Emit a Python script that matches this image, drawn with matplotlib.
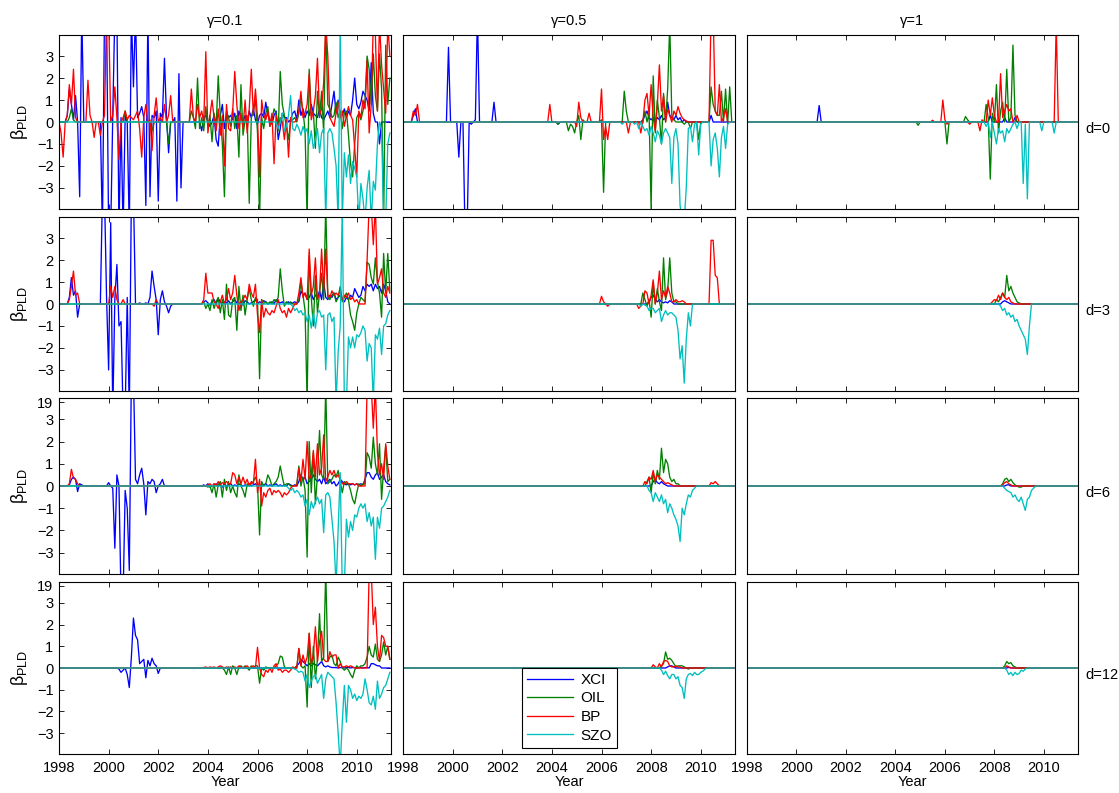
import numpy as np
import matplotlib
matplotlib.use("Agg")
import matplotlib.pyplot as plt

plt.rcParams['font.family'] = ['Liberation Sans', 'DejaVu Sans']

# ---------------- data ----------------
N_MONTHS = 161            # monthly, Jan 1998 .. May 2011
START_YEAR = 1998
GAMMAS = ["γ=0.1", "γ=0.5", "γ=1"]
LAGS = ["d=0", "d=3", "d=6", "d=12"]
SERIES = ["XCI", "OIL", "BP", "SZO"]
XTICKS = [1998, 2000, 2002, 2004, 2006, 2008, 2010]
YTICKS = [-3, -2, -1, 0, 1, 2, 3]

# each series: list of (start_month, [consecutive monthly values]); zero elsewhere
# ---- gamma = 0.1, d = 0
XCI_G01_D0 = [
    (4, [0.3, 1.5, 0.8, 0.1, 1.2, 0.0, -3.4, 5.0]),
    (20, [0.0, -5, 5, 5, -5, -5, 0.3, 5, 5, -5, 0.2, -5, 0.3, 0.0, -5, 5, 1.6, 5, 0.2, 0.4,
          0.7, 0.2, -3.8, 5, -3.4, 0.3, 0.2, 0.5, -3.6, 0.4, 0.2, 2.9, 0.2, -1.4, 0.0, 0.0,
          0.2, -3.6, 2.2, -3.0, 0.0]),
    (69, [-0.4, 0.2, 0.3, 0.0, -0.2, 0.0, 0.3, -0.8, -1.1, 0.3, 0.8, -0.3, 0.4, 0.2,
          0.3, 0.1, 0.4, -0.3, 0.5, 0.2, 0.0, 0.3, -0.2, 0.5, 0.2, 0.6, 0.1, -0.1, 0.3, 0.4, 0.2, 0.9,
          0.3, 0.1, -0.1, 0.3, 0.5, -0.8, -0.3, 0.4, 0.2, 0.2, 0.0, 0.1, 0.4, 0.5, 0.1, 1.0,
          0.3, 0.6, 0.2, 0.5, 0.3, 0.8, 0.4, 0.3, 0.2, 0.6, 0.2, 0.1, 0.3, 0.5, 0.2, 0.8, 1.4, 0.4, 1.0, 0.4,
          0.3, 0.6, 0.2, 0.5, 0.3, 1.0, 2.0, 0.8, 0.6, 0.9, 1.4, 1.2, 1.0, 0.5, 2.7, 0.4, 0.0, 0.0, -1.0,
          0.0, 0.0, 0.0, 0.0, 0.0]),
]
OIL_G01_D0 = [
    (5, [0.2, 0.6, 0.1]), (32, [0.5]), (45, [-0.4]), (53, [-1.0]),
    (63, [0.0, 0.5, 0.2, -0.3, 2.0, -0.3, 0.2, -0.4, 0.7, -0.2, 0.3, -0.9, 0.4, -0.2, 2.1, 0.3, -1.0, -3.4, 0.5, 0.2,
          -0.2, 0.6, -0.3, 0.3, -1.6, 1.7, -0.6, 0.1, 0.3, -3.7, 0.2, 0.5, 1.0, -0.5, -4.5, 0.2, -0.3, 0.4, 0.7, -0.2,
          0.1, 0.6, 0.4, -0.4, 2.3, 0.8, 0.3, -0.2, -0.8, 0.0,
          0.1, 0.2, 0.0, 0.4, 1.1, 0.5, -0.4, -4.5, 2.4, 0.3, 0.5, -1.2, 1.4, 0.2, 1.4, -0.5, 4.5, 0.8, 0.6, 0.2,
          0.3, 0.9, 0.2, 0.5, -0.3, 0.4, 0.5, -0.6, -1.9, -2.5, -1.0, 0.2, 0.4, 0.1, 0.5, 1.0, 3.0, 2.4, 0.8, 3.1,
          1.2, 0.5, 3.1, 1.5, -4.5, 3.5, 0.8, 2.0]),
]
BP_G01_D0 = [
    (0, [0.0, -0.5, -1.6, 0.0, 0.3, 1.7, 0.8, 2.4, 0.2, 0.0, 0.0, 0.0, 0.0, 0.0, 1.9, 0.3, 0.0, -0.7, 0.0, 0.0,
         -0.6, 0.0, 0.3, 5, 5, 0.0, 0.3, 1.6, 0.2, -1.7, 0.0, 0.2, 0.5, 0.1, 0.3, 0.2, 0.1, 0.3, 0.5, -0.3,
         -1.6, 0.2, 0.8, 0.0, 0.1, -1.3, 0.3, 1.1, 0.0, 0.2, 0.0, 0.8, 0.0, 0.3, 1.2, 0.0]),
    (63, [0.0, 1.5, 0.2, 0.0, 0.8, 0.2, 0.5, 0.0, 3.2, -0.5, 0.3, 1.0, 0.2, -0.4, 0.6, -0.6, 0.3, -2.0, 0.8, -0.3,
          -0.4, 0.5, 2.3, 0.8, -0.3, 0.4, -0.3, 1.0, -0.5, 0.6, 2.4, 0.3, 1.5, 0.2, -2.5, 1.0, 0.3, 0.1, 0.5, -0.2,
          0.4, -1.9, 0.3, -0.3, 0.2, 0.0, -0.8, 0.1, -1.6, 0.2,
          0.0, 0.0, 0.1, 0.5, 1.4, 0.2, 0.4, 0.8, 2.2, 0.1, 0.5, 1.2, 2.9, 0.3, 0.6, 1.8, 4.5, 3.0, 0.2, 0.0,
          -0.2, 0.4, 0.9, 0.2, 0.5, -0.2, 0.3, 0.7, 0.3, 0.1, -1.2, -2.5, 0.5, 0.2, 1.0, 0.6, 2.8, -0.5, 0.8, 4.5,
          4.0, 0.5, 4.5, 2.6, 1.5, 0.4, 4.5, 3.0]),
]
SZO_G01_D0 = [
    (106, [-0.3, 0.0, 0.4, -0.4, -0.2, 0.3, 1.2, -0.3, -0.4, -0.1, -0.3, -0.6, -0.2, -0.5, -0.3, -1.0, -0.4, -1.2,
           -0.8, -0.3, -1.4, -0.5, -0.3, -4.5, -0.5, -0.3, -0.5, -1.2, -2.0, -4.5, 4.5, -4.5, -1.4, -2.5, -1.5,
           -2.8, -1.8, -2.1, -2.5, -4.5, -2.8, -3.5, -4.5, -3.0, -2.2, -4.5, -2.7, -3.1, -1.0, 0.0, -0.3, -4.5,
           -4.5, -1.0, -0.5]),
]
# ---- gamma = 0.1, d = 3
XCI_G01_D3 = [
    (5, [0.3, 1.2, 0.4, 0.6, -0.6, 0.0]),
    (20, [0.0, 5, 5, 0.3, -3.0, 3.7, -5, 0.2, 1.8, -1.0, -0.8, -5, -5, 0.3, -5, 5, 5, 0.0, 0.0, 0.05, 0.0, 0.0,
          0.05, 0.0, 0.3, 1.5, 0.8, 0.2, -1.4, 0.2, 0.6, 0.1, -0.1, -0.4, -0.1, 0.0]),
    (70, [0.1, 0.15, 0.05, -0.05, 0.1, 0.2, 0.0, 0.25, 0.1, 0.0, 0.1, 0.05, 0.15, 0.0, 0.1, 0.2, 0.05, 0.0, 0.1,
          -0.05, 0.15, 0.1, 0.0, 0.05, 0.1, 0.2, 0.0, 0.1, 0.05, 0.15, 0.1, 0.0, 0.05, 0.1, 0.0, 0.2, 0.1, 0.05,
          0.1, 0.0, 0.05, 0.1, 0.0, 0.05, 0.1, 0.05, 0.1,
          0.6, 0.4, 0.5, 0.2, 0.3, 0.5, 0.2, 0.4, 0.3, 0.6, 0.2, 1.0, 0.3, 0.2, 0.4, 0.3, 0.5, 0.2, 0.3, 0.4,
          0.2, 0.1, 0.3, 0.2, 0.4, 0.3, 0.7, 0.5, 0.3, 0.4, 0.8, 0.6, 0.9, 0.8, 0.9, 0.6, 0.9, 0.7, 0.8, 0.5,
          0.9, 0.6, 0.1, 0.0]),
]
OIL_G01_D3 = [
    (70, [0.1, -0.2, 0.0, -0.3, 0.2, -0.2, 0.1, 0.3, -0.4, 0.2, -0.7, 0.9, -0.5,
          -0.6, 0.2, 0.3, -1.2, 0.8, -0.3, 0.4, -0.5, 0.2, 0.7, 0.2, -0.1, 0.3, 0.2, -3.4, 0.2, 0.0, 0.1, 0.0,
          0.1, 0.0, 0.2, 0.1, 0.3, 1.6, 0.6, -0.1, 0.1, 0.0, 0.1, 0.0, 0.0, 0.0,
          0.2, 1.0, 0.4, -0.3, -4.5, 2.2, 0.3, -1.0, 1.3, -0.4, 0.5, 1.4, 0.2, 4.5, 0.3, 0.2, 0.4, 0.5, 0.1,
          0.3, 0.8, 0.1, 0.3, 0.5, 0.2, -0.5, -0.8, -1.2, -0.4, 0.0, 0.3, 0.2, 0.1, 1.9, 1.8, 1.2, 0.9, 2.1,
          1.0, 0.5, -0.6, 2.3, 0.5, 2.3, 0.6]),
]
BP_G01_D3 = [
    (5, [0.2, 0.8, 1.5, 0.4, 0.5, 0.0]), (25, [0.8, 0.3, 0.8, 0.2, 0.0, 0.0, 0.2, 0.0]), (46, [-0.1, 0.2, 0.0]),
    (69, [0.0, 0.2, 1.4, 0.5, 0.5, 0.5, 0.1, 0.0, -0.2, 0.1, 0.4, 0.0, 0.2, 0.7, 0.2,
          0.5, 1.3, 0.4, -0.3, 0.1, 0.2, 0.4, 0.2, 0.9, 0.5, 0.3, 0.9, -0.5, -1.3, 0.2, -0.6, -0.2, -0.4, -0.5,
          -0.3, -0.4, -0.1, 0.2, -0.2, -0.4, -0.3, -0.6, -0.2, -0.4, -0.2, 0.0, 0.0,
          0.5, 1.2, 0.3, 0.5, 0.2, 2.5, 0.4, 0.8, 2.1, 0.2, 0.5, 2.5, 0.6, 2.5, 0.4, 0.3, 0.6, 0.4, 0.5, 0.4,
          0.6, 0.2, 0.4, 0.3, 0.5, 0.2, 0.3, 0.1, 0.2, 0.0, 0.0, 0.0, 0.0, 2.0, 4.5, 4.5, 2.7, 4.5, 0.9, 1.2,
          1.6, 0.5, 0.3, 0.8, 0.5]),
]
SZO_G01_D3 = [
    (113, [-0.1, -0.3, -0.2, -0.4, -0.3, -0.5, -0.4, -0.8, -0.5, -1.1, -0.4, -1.1, -0.4, -0.3, -0.6, -0.5,
           -3.0, -0.5, -0.4, -0.8, -0.6, -4.5, -2.2, -1.0, 4.5, -4.5, -4.5, -1.5, -2.0, -1.5, -2.0, -1.4,
           -1.5, -1.3, -1.0, -1.2, -2.6, -1.8, -2.0, -4.5, -1.4, -1.6, -1.1, -2.3, -1.0, -0.9, -0.5, -0.3]),
]
# ---- gamma = 0.1, d = 6
XCI_G01_D6 = [
    (5, [0.05, 0.3, 0.4, 0.3, -0.25, 0.1, 0.05]),
    (24, [0.15, 0.0, -0.1, -2.8, 0.5, 0.0, -5, -5, -0.2, -1.0, -3.8, 5, 5, 0.3, 0.1, 0.5, 0.8, 0.1, -1.3,
          0.2, 0.1, 0.3, 0.2, -0.3, 0.0, 0.1, 0.3, 0.0]),
    (70, [0.05, 0.0, 0.1, -0.05, 0.0, 0.05, 0.1, 0.0, 0.05, -0.05, 0.1, 0.0, 0.05, 0.1, 0.0, 0.05, 0.0, 0.1,
          0.05, 0.0, 0.05, 0.0, 0.1, 0.0, 0.05, 0.1, 0.0, 0.05, 0.0, 0.05, 0.1, 0.0, 0.05, 0.0, 0.05, 0.1, 0.0,
          0.05, 0.0, 0.05, 0.0, 0.1, 0.05, 0.0, 0.05, 0.0,
          0.2, 0.5, 0.3, 0.4, 0.1, 0.2, 0.3, 0.5, 0.3, 0.2, 0.3, 0.1, 0.4, 0.1, 0.2, 0.3, 0.1, 0.2, 0.0, 0.1,
          0.3, 0.2, 0.1, 0.05, 0.1, 0.05, 0.1, 0.05, 0.1, 0.05, 0.1, 0.05, 0.3, 0.6, 0.6, 0.4, 0.3, 0.5, 0.6,
          0.3, 0.4, 0.5, 0.2, 0.1, 0.05]),
]
OIL_G01_D6 = [
    (72, [-0.05, 0.0, -0.3, 0.1, -0.5, 0.05, 0.2, -0.5, 0.3, -0.2, 0.2,
          -0.3, 0.0, -0.3, -0.5, 0.5, 0.0, -0.2, -0.5, 0.1, 0.0, 0.1, 0.2, 0.4, 0.1, -2.2, 0.2, 0.0, 0.1, 0.5,
          0.3, 0.0, 0.1, 0.2, 0.4, 0.9, 0.4, 0.0, 0.1, 0.1, 0.0, 0.0, 0.0, 0.1,
          0.9, 0.0, 0.4, -0.2, -3.2, 2.0, -0.3, 1.5, -0.8, 0.5, 2.5, 0.5, 0.3, 4.5, 0.1, 0.2, 0.3, 0.5, 0.4,
          0.7, 0.2, -0.3, 0.2, 0.1, 0.1, -0.2, -0.6, -0.8, -0.3, 0.1, 0.0, 0.1, 0.1, 1.5, 1.3, 0.8, 2.2, 1.0,
          0.5, 1.9, -0.6, 0.8, 1.8, 0.2, 0.3]),
]
BP_G01_D6 = [
    (5, [0.1, 0.75, 0.35, 0.3, 0.1, 0.0]),
    (72, [0.05, 0.1, 0.0, 0.1, 0.0, 0.2, 0.05, 0.15, 0.1, 0.2, 0.1, 0.1,
          0.6, 0.5, 0.1, 0.4, 0.1, 0.4, 0.1, 0.3, 0.0, 0.2, 0.1, 1.2, -0.3, 0.3, -0.9, -0.3, -0.5, -0.2, -0.1,
          -0.4, -0.2, -0.3, -0.2, -0.3, -0.5, -0.3, -0.4, -0.3, -0.1, 0.0, 0.0, 0.0,
          0.8, 0.2, 1.2, 0.3, 2.0, 0.3, 0.5, 1.6, 0.4, 1.9, 0.5, 0.8, 2.3, 0.2, 0.4, 0.7, 0.5, 0.7, 0.4, 0.5,
          0.3, 0.1, 0.1, 0.2, 0.1, 0.1, 0.1, 0.05, 0.1, 0.0, 0.0, 0.0, 0.0, 4.5, 4.5, 4.5, 2.6, 4.5, 1.5, 0.5,
          1.0, 0.3, 1.9, 0.9, 0.3]),
]
SZO_G01_D6 = [
    (111, [-0.1, -0.2, -0.1, -0.3, -0.2, -0.3, -0.5, -0.4, -0.9, -0.6, -1.3, -0.7, -1.0, -0.7, -0.5, -0.8,
           -0.6, -2.1, -0.4, -0.3, -0.5, -1.5, -2.5, -4.5, -2.0, 0.6, -4.5, -4.5, -1.5, -2.3, -1.6, -2.0,
           -1.3, -1.4, -1.0, -0.8, -1.0, -0.8, -1.6, -1.2, -1.8, -1.4, -3.3, -1.4, -1.9, -1.0, -0.9, -0.7,
           -0.5, -0.2]),
]
# ---- gamma = 0.1, d = 12
XCI_G01_D12 = [
    (29, [-0.05, -0.2, -0.1, 0.0, -0.3, -0.9, 0.5, 2.3, 1.5, 1.3, 0.2, 0.3, 0.4, -0.45, 0.35, 0.1, 0.45, 0.2,
          0.1, -0.25, 0.0]),
    (115, [0.1, 0.2, 0.4, 0.3, 0.2, 0.1, 0.2, 0.1, 0.2, 0.15, 0.1, 0.2, 0.3, 0.1, 0.05, 0.1, 0.05, 0.02, 0.02,
           0.02, 0.0, 0.02, 0.02, 0.0, 0.02, 0.02, 0.0, 0.02, 0.02, 0.0, 0.02, 0.02, 0.0, 0.02, 0.02, 0.0, 0.2,
           0.2, 0.15, 0.1, 0.1, 0.0]),
]
OIL_G01_D12 = [
    (80, [-0.1, -0.3, 0.05,
          -0.3, 0.1, 0.0, -0.3, 0.05, 0.1, 0.0, 0.1, 0.0, -0.1, 0.1, 0.0, 0.1, 0.1, -0.7, 0.0, -0.1, 0.05, 0.0,
          0.0, 0.0, 0.0, 0.1, 0.2, 0.55, 0.5, 0.05, 0.0, 0.0, 0.0, 0.0, 0.0, 0.0,
          0.9, 0.1, 0.0, 0.1, -1.8, 1.6, -0.9, 1.0, -0.5, 0.4, 2.5, 0.3, 0.5, 4.5, 0.3, 0.5, 0.6, 0.2, 0.1,
          0.5, 0.3, 0.0, -0.1, 0.0, -0.1, -0.3, -0.45, -0.1, 0.1, 0.0, 0.1, 0.1, 0.2, 0.5, 1.0, 0.6, 0.5, 1.1,
          0.4, 0.3, 0.6, 1.2, 0.6, 1.0, 0.4]),
]
BP_G01_D12 = [
    (70, [0.02, 0.05, 0.0, 0.05, 0.02, 0.05, 0.0, 0.05, 0.1, 0.05, 0.0, 0.05, 0.02,
          0.05, 0.0, 0.05, 0.0, 0.1, 0.05, 0.0, 0.05, 0.1, 0.0, 0.05, 0.1, 0.0, 0.95, 0.0, -0.3, -0.4, -0.1,
          -0.2, 0.0, -0.2, 0.1, 0.2, -0.1, -0.05, -0.2, -0.1, -0.1, -0.2, -0.1, 0.05, 0.0, 0.0,
          0.9, 0.1, 0.6, 0.2, 0.5, 1.6, 0.2, 0.6, 1.9, 0.3, 1.2, 1.7, 0.4, 0.3, 0.3, 0.75, 0.5, 0.6, 0.6, 0.0,
          0.2, 0.05, 0.05, 0.1, 0.05, 0.1, 0.05, 0.0, 0.0, 0.0, 0.0, 0.0, 0.0, 0.0, 4.5, 4.5, 2.0, 2.8, 1.0,
          0.3, 1.5, 1.4, 1.0, 1.0, 0.4]),
]
SZO_G01_D12 = [
    (114, [-0.05, -0.1, -0.2, -0.15, -0.2, -0.6, -0.3, -0.9, -0.6, -0.4, -0.3, -0.7, -0.5, -0.3, -1.4, -0.5,
           -0.2, -0.3, -0.4, -0.5, -1.6, -3.0, -4.5, -2.5, -0.8, -2.5, -0.8, -1.0, -1.4, -1.2, -1.5, -1.3,
           -1.4, -1.2, -0.5, -1.0, -1.6, -1.7, -1.3, -1.9, -0.6, -1.4, -1.2, -0.9, -0.8, -0.5, -0.2]),
]
# ---- gamma = 0.5
XCI_G05_D0 = [(5, [0.3, 0.6, 0.0]), (22, [3.4]), (27, [-1.6]), (30, [-5, -5, 0.0, -0.1, 0.0, 0.1, 5, 0.0]),
              (44, [0.9]), (75, [-0.1]),
              (116, [0.1, 0.3, 0.5, 0.2, 0.1, 0.2, 0.0, 0.2, 0.1, 0.3, 0.1, 0.2, 0.9, 0.3, 0.2, 0.1, 0.3, 0.1,
                     0.2, 0.0, 0.1]), (149, [0.3])]
OIL_G05_D0 = [(75, [-0.1]), (80, [-0.4, -0.1, -0.2, -0.5, 0.0, 0.3, -0.8, 0.1]), (96, [0.1, -3.2]),
              (107, [1.4, 0.5]),
              (117, [0.5, 0.0, 0.4, -4.0, 2.1, -0.5, 1.0, 0.2, -1.0, 1.3, 0.0, 1.5, 4.5, 0.3, 0.1]),
              (136, [-0.1]), (139, [-0.3]), (143, [-0.8]),
              (149, [1.6, 0.8, 0.5, 0.3, 0.3, 1.4, 0.0, 1.5, -0.1, 1.6])]
BP_G05_D0 = [(5, [0.5, 0.3, 0.8, 0.0]), (71, [0.8]), (84, [-0.2, 0.9, 0.2]), (90, [0.4]),
             (96, [1.5, -0.8, -0.2, -0.8, 0.0]), (109, [-0.5]),
             (115, [-0.5, 0.0, 1.0, 1.3, 0.3, 1.7, 0.2, -0.4, 0.8, 2.6, 0.5, 1.2, 0.0, 0.6, 0.3, 0.0, 0.5, 0.3,
                    0.7, 0.4, 0.2, 0.1, 0.05]),
             (149, [5, 5, 0.5, 0.3, 1.7, 0.0, 0.2, 0.6])]
SZO_G05_D0 = [(106, [-0.1]),
              (112, [-0.1, 0.0, -0.3, 0.0, -0.2, -0.4, -0.3, -0.6, -0.2, -0.5, -0.9, -0.4, -0.6, -1.0, -0.5,
                     -0.3, -0.5, -0.7, -2.8, -0.7, -0.3, -1.0, -3.8, -4.5, -4.5, -3.0, -0.3, -0.2, -0.9, -0.1,
                     0.0, -1.5, -0.1]),
              (149, [-2.0, -0.8, -0.5, -1.2, -2.5, -0.7, -0.2, -1.2, -0.1])]
XCI_G05_D3 = [(119, [0.1, 0.3, 0.4, 0.2, 0.1, 0.2, 0.1, 0.05, 0.1, 0.05, 0.15, 0.1])]
OIL_G05_D3 = [(116, [0.5, 0.2, -0.1, 0.2, -0.6, 1.0, 0.0, 0.7, 0.1, -0.3, 2.1, 0.2, 0.6, 2.1, 0.5, 0.1, 0.1])]
BP_G05_D3 = [(96, [0.35, 0.1, 0.0, -0.1]),
             (114, [-0.2, -0.1, 0.0, 0.6, 0.5, 0.0, 0.4, 1.1, 0.0, 0.5, 1.5, 0.2, 0.6, 0.3, 0.8, 0.5, 0.1, 0.1,
                    0.2, 0.1, 0.1, 0.15, 0.1]),
             (149, [2.9, 2.9, 1.3, 1.2])]
SZO_G05_D3 = [(115, [-0.1, 0.0, -0.05, -0.1, -0.3, -0.2, -0.2, -0.4, -0.3, -0.2, -0.8, -0.5, -0.3, -0.5,
                     -0.4, -0.4, -0.5, -0.6, -1.2, -2.5, -1.9, -3.6, -1.6, -0.4, -1.0])]
XCI_G05_D6 = [(121, [0.2, 0.3, 0.15, 0.1, 0.2, 0.1, 0.05])]
OIL_G05_D6 = [(118, [0.2, 0.4, -0.3, 0.6, 0.1, 0.7, 0.3, 1.7, 0.6, 1.2, 1.0, 0.4, 0.2, 0.3, 0.1, 0.1])]
BP_G05_D6 = [(117, [0.2, 0.1, 0.4, 0.3, 0.7, 0.2, 0.5, 0.4, 0.3, 0.2, 0.1, 0.15, 0.1, 0.05]),
             (149, [0.15, 0.1, 0.2, 0.1])]
SZO_G05_D6 = [(119, [-0.2, -0.3, -0.7, -0.3, -0.5, -0.7, -0.4, -0.8, -0.6, -1.2, -0.8, -1.0, -1.3, -1.5,
                     -1.8, -2.5, -1.0, -1.3, -0.8, -0.4, -0.5, -0.2, -0.1])]
XCI_G05_D12 = [(128, [0.05, 0.1, 0.1, 0.05])]
OIL_G05_D12 = [(125, [0.1, 0.2, 0.74, 0.4, 0.45, 0.35, 0.2, 0.05, 0.1, 0.1, 0.1, 0.05, 0.0, -0.05])]
BP_G05_D12 = [(121, [0.15, 0.05, 0.0, 0.2, 0.05, 0.3, 0.35, 0.3, 0.1, 0.05, 0.05, 0.1, 0.05, 0.05])]
SZO_G05_D12 = [(125, [-0.1, -0.3, -0.15, -0.35, -0.5, -0.3, -0.3, -0.5, -0.4, -0.8, -0.9, -1.4, -0.5, -0.3,
                      -0.25, -0.35, -0.2, -0.3, -0.3, -0.2, -0.15, -0.05])]
# ---- gamma = 1
XCI_G1_D0 = [(35, [0.75]), (118, [0.3]), (125, [0.2]), (130, [0.2])]
OIL_G1_D0 = [(83, [-0.15]), (97, [-1.0]), (106, [0.25, 0.1]),
             (116, [0.8, 0.2, -2.6, 0.4, 0.0, 1.7, -0.5, 0.5, 0.9, 0.0, 2.4, 0.0, 0.2, 3.5, 0.3])]
BP_G1_D0 = [(90, [0.08]), (95, [1.0, 0.1, -0.1]), (108, [-0.1]),
            (113, [-0.4, 0.1, 0.0, 0.0, 1.0, 0.3, 1.1, 0.3, 0.0, 0.0, 2.2, 0.2, 0.5, 0.8, 0.5, 0.6, 0.0, 0.0, 0.3]),
            (150, [4.5])]
SZO_G1_D0 = [(116, [-0.2, 0.0, -0.7, 0.0, -0.5, -1.0, -0.3, -0.5, -0.4, -0.9, -0.3, -0.5, -0.3, -0.1, 0.0,
                    -0.3, 0.0, 0.0, -2.8, -0.1, -3.5, 0.0]), (143, [-0.4]), (149, [-0.5])]
XCI_G1_D3 = [(124, [0.1, 0.15, 0.1, 0.05])]
OIL_G1_D3 = [(121, [0.2, 0.1, 0.3, 0.5, 0.3, 1.3, 0.6, 0.8, 0.5, 0.3, 0.1, 0.05])]
BP_G1_D3 = [(119, [0.1, 0.2, 0.15, 0.4, 0.2, 0.5, 0.3, 0.2, 0.3, 0.1, 0.05])]
SZO_G1_D3 = [(123, [-0.1, -0.3, -0.2, -0.5, -0.4, -0.6, -0.5, -0.8, -0.7, -1.0, -1.2, -1.4, -1.6, -2.3, -1.0, 0.0])]
XCI_G1_D6 = [(126, [0.05, 0.05])]
OIL_G1_D6 = [(124, [0.1, 0.3, 0.35, 0.2, 0.3, 0.15, 0.05, 0.0, -0.05, -0.05, 0.0])]
BP_G1_D6 = [(124, [0.05, 0.15, 0.2, 0.1, 0.05])]
SZO_G1_D6 = [(125, [-0.1, -0.2, -0.25, -0.3, -0.5, -0.4, -0.6, -0.7, -0.5, -0.8, -1.1, -0.6, -0.5, -0.2, -0.1, 0.0])]
XCI_G1_D12 = [(127, [0.03])]
OIL_G1_D12 = [(125, [0.1, 0.3, 0.2, 0.25, 0.1, 0.05])]
BP_G1_D12 = [(126, [0.1, 0.05])]
SZO_G1_D12 = [(126, [-0.1, -0.3, -0.2, -0.35, -0.2, -0.3, -0.25, -0.1, -0.15, -0.05, 0.0])]

PANELS = {
    (0, 0): (XCI_G01_D0, OIL_G01_D0, BP_G01_D0, SZO_G01_D0),
    (1, 0): (XCI_G01_D3, OIL_G01_D3, BP_G01_D3, SZO_G01_D3),
    (2, 0): (XCI_G01_D6, OIL_G01_D6, BP_G01_D6, SZO_G01_D6),
    (3, 0): (XCI_G01_D12, OIL_G01_D12, BP_G01_D12, SZO_G01_D12),
    (0, 1): (XCI_G05_D0, OIL_G05_D0, BP_G05_D0, SZO_G05_D0),
    (1, 1): (XCI_G05_D3, OIL_G05_D3, BP_G05_D3, SZO_G05_D3),
    (2, 1): (XCI_G05_D6, OIL_G05_D6, BP_G05_D6, SZO_G05_D6),
    (3, 1): (XCI_G05_D12, OIL_G05_D12, BP_G05_D12, SZO_G05_D12),
    (0, 2): (XCI_G1_D0, OIL_G1_D0, BP_G1_D0, SZO_G1_D0),
    (1, 2): (XCI_G1_D3, OIL_G1_D3, BP_G1_D3, SZO_G1_D3),
    (2, 2): (XCI_G1_D6, OIL_G1_D6, BP_G1_D6, SZO_G1_D6),
    (3, 2): (XCI_G1_D12, OIL_G1_D12, BP_G1_D12, SZO_G1_D12),
}


def build(segs):
    v = np.zeros(N_MONTHS)
    for start, vals in segs:
        for i, x in enumerate(vals):
            if start + i < N_MONTHS:
                v[start + i] = x
    return v


years = START_YEAR + np.arange(N_MONTHS) / 12.0

# ---------------- figure ----------------
W, H = 1119, 793
fig = plt.figure(figsize=(W / 100, H / 100), dpi=100)
col_px = [(59, 391), (403, 735), (747, 1078)]
row_px = [(35, 209), (217, 391), (398, 574), (582, 754)]
COLORS = [(0, 0, 1), (0, 0.5, 0), (1, 0, 0), (0, 0.75, 0.75)]
FS = 10.5

for r, (yt, yb) in enumerate(row_px):
    for c, (xl, xr) in enumerate(col_px):
        ax = fig.add_axes([xl / W, 1 - yb / H, (xr - xl) / W, (yb - yt) / H])
        lines = []
        for k, segs in enumerate(PANELS[(r, c)]):
            ln, = ax.plot(years, build(segs), color=COLORS[k], lw=0.95, label=SERIES[k])
            lines.append(ln)
        ax.set_xlim(1998, 2011.38)
        ax.set_ylim(-3.96, 3.96)
        ax.set_xticks(XTICKS)
        for sp in ax.spines.values():
            sp.set_linewidth(0.8)
        ax.tick_params(direction='in', length=3.5, width=0.6, top=True, right=True,
                       labelsize=FS, pad=4)
        ax.tick_params(axis='x', pad=5)
        if c == 0:
            if r >= 2:
                ax.set_yticks(YTICKS + [3.78])
                ax.set_yticklabels([str(t).replace('-', '\u2212') for t in YTICKS] + ['19'])
            else:
                ax.set_yticks(YTICKS)
                ax.set_yticklabels([str(t).replace('-', '\u2212') for t in YTICKS])
            ax.set_ylabel('β$_{\\mathregular{PLD}}$', fontsize=13)
            ax.yaxis.set_label_coords(-0.088, 0.5)
        else:
            ax.set_yticks([])
        if r == 3:
            ax.set_xticklabels([str(t) for t in XTICKS])
            ax.set_xlabel('Year', fontsize=FS, labelpad=0)
        else:
            ax.set_xticklabels([])
        if r == 0:
            ax.set_title(GAMMAS[c], fontsize=FS, pad=7)
        if c == 2:
            ax.text(1.021, 0, LAGS[r], transform=ax.get_yaxis_transform(),
                    ha='left', va='top', fontsize=FS)
        if (r, c) == (3, 1):
            leg = ax.legend(handles=lines, loc='lower left', bbox_to_anchor=(0.358, 0.035),
                            borderaxespad=0, fontsize=11, labelspacing=0.3, handlelength=3.0,
                            handletextpad=0.5, borderpad=0.35, fancybox=False, framealpha=1)
            leg.get_frame().set_edgecolor('black')
            leg.get_frame().set_linewidth(0.8)

fig.savefig('out.png', dpi=100)
